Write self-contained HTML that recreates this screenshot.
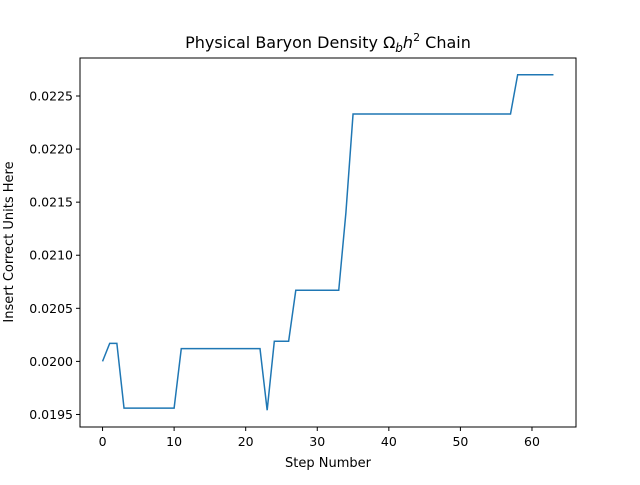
<!DOCTYPE html>
<html><head><meta charset="utf-8"><style>
body{margin:0;background:#fff}
text{font-family:"DejaVu Sans","Liberation Sans",sans-serif;fill:#000}
</style></head><body>
<svg id="chart" width="640" height="480">
<rect width="640" height="480" fill="#fff"/>
<text x="328" y="48" font-size="16" text-anchor="middle">Physical Baryon Density Ω<tspan font-style="italic" font-size="12" dy="4">b</tspan><tspan font-style="italic" dy="-4">h</tspan><tspan font-size="11" dy="-7">2</tspan><tspan dy="7"> Chain</tspan></text>
<g id="plot"></g>
<rect x="80" y="58" width="496" height="369" fill="none" stroke="#000" stroke-width="1"/>
<text x="328" y="467" font-size="13" text-anchor="middle">Step Number</text>
<text transform="translate(13,242) rotate(-90)" font-size="13" text-anchor="middle">Insert Correct Units Here</text>
</svg>
<script>
const values = [0.02000,0.02017,0.02017,0.01956,0.01956,0.01956,0.01956,0.01956,0.01956,0.01956,0.01956,
0.02012,0.02012,0.02012,0.02012,0.02012,0.02012,0.02012,0.02012,0.02012,0.02012,0.02012,0.02012,
0.01954,0.02019,0.02019,0.02019,
0.02067,0.02067,0.02067,0.02067,0.02067,0.02067,0.02067,
0.02140,
0.02233,0.02233,0.02233,0.02233,0.02233,0.02233,0.02233,0.02233,0.02233,0.02233,0.02233,0.02233,0.02233,0.02233,0.02233,0.02233,0.02233,0.02233,0.02233,0.02233,0.02233,0.02233,0.02233,
0.02270,0.02270,0.02270,0.02270,0.02270,0.02270];
const xTicks = [0,10,20,30,40,50,60];
const yTicks = [0.0195,0.0200,0.0205,0.0210,0.0215,0.0220,0.0225];
const NS='http://www.w3.org/2000/svg';
const n=values.length-1;
const xmin=-0.05*n, xmax=n*1.05;
const vmin=Math.min(...values), vmax=Math.max(...values), pad=(vmax-vmin)*0.05;
const ymin=vmin-pad, ymax=vmax+pad;
const X=v=>80+(v-xmin)/(xmax-xmin)*496;
const Y=v=>427-(v-ymin)/(ymax-ymin)*369;
const g=document.getElementById('plot');
function el(t,a){const e=document.createElementNS(NS,t);for(const k in a)e.setAttribute(k,a[k]);g.appendChild(e);return e;}
xTicks.forEach(t=>{
 const l=el('line',{x1:X(t),x2:X(t),y1:427,y2:431,stroke:'#000'});
 
 
 const tx=el('text',{x:X(t),y:446,'font-size':12.5,'text-anchor':'middle'});tx.textContent=t;
 
 
});
yTicks.forEach(t=>{
 const l=el('line',{x1:76,x2:80,y1:Y(t),y2:Y(t),stroke:'#000'});
 
 
 const tx=el('text',{x:73,y:Y(t)+4.5,'font-size':12.5,'text-anchor':'end'});tx.textContent=t.toFixed(4);
 
 
});
const p=el('polyline',{points:values.map((v,i)=>X(i)+','+Y(v)).join(' '),fill:'none',stroke:'#1f77b4','stroke-width':1.5});


</script>
</body></html>
